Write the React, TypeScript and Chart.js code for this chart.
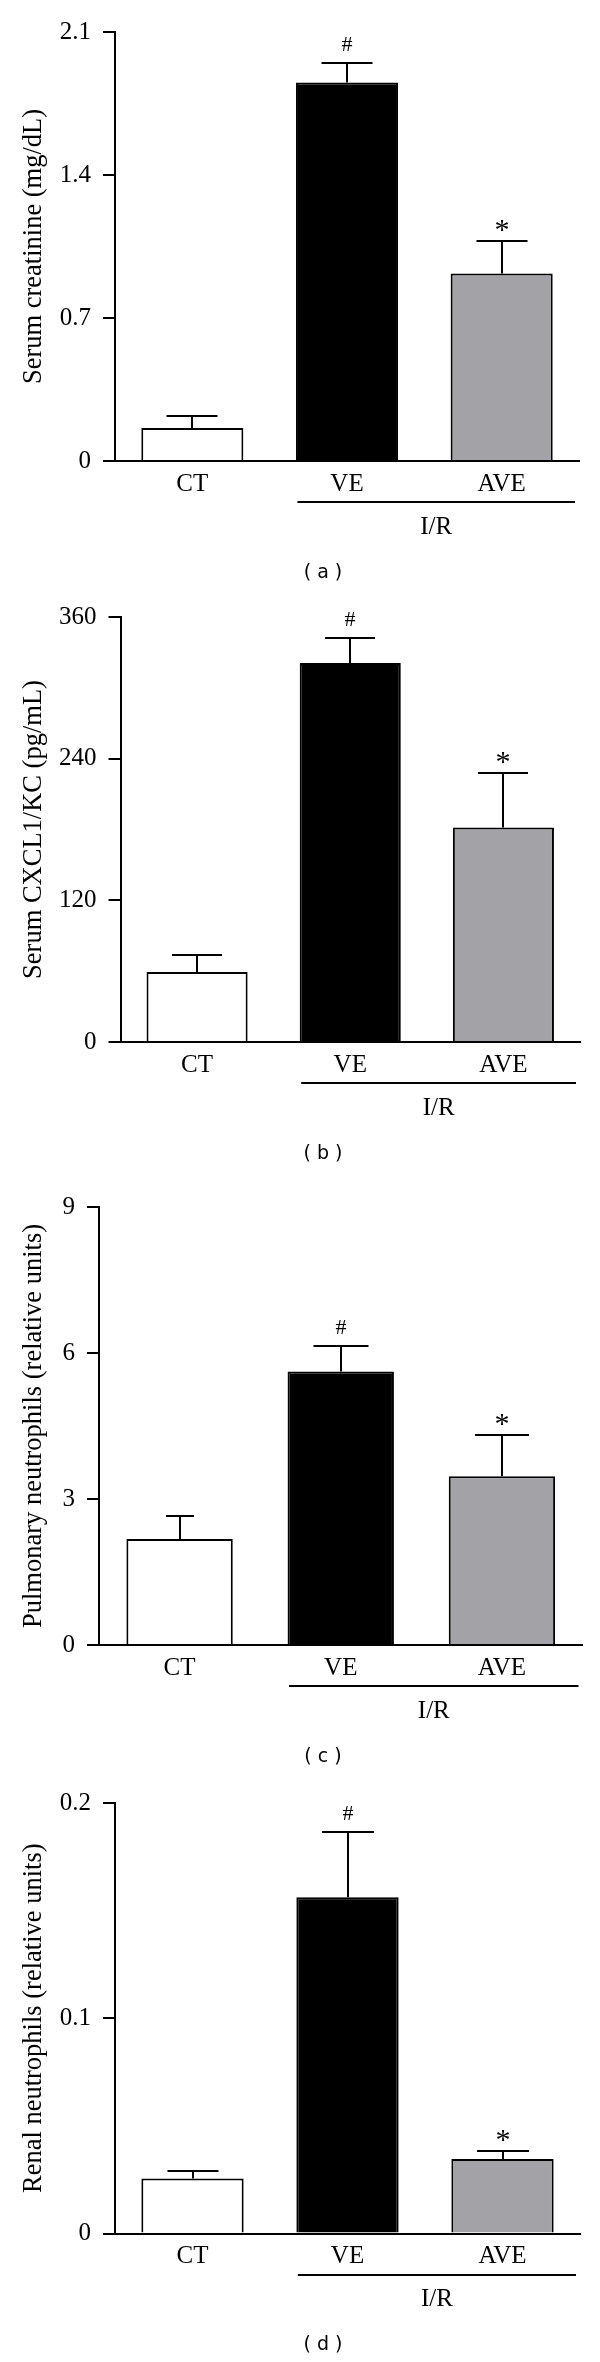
import React, { useEffect, useRef } from 'react';
import { Chart, registerables } from 'chart.js';

Chart.register(...registerables);

// ---------------- data ----------------
const categories = ['CT', 'VE', 'AVE'];
const groupLabel = 'I/R';
const significance = ['', '#', '*'];

const creatinineMean = [0.161, 1.853, 0.918];
const creatinineSem = [0.057, 0.094, 0.159];
const creatinineTicks = [0, 0.7, 1.4, 2.1];
const creatinineTickLabels = ['0', '0.7', '1.4', '2.1'];

const cxclMean = [59.3, 321.0, 181.8];
const cxclSem = [14.2, 20.8, 45.8];
const cxclTicks = [0, 120, 240, 360];
const cxclTickLabels = ['0', '120', '240', '360'];

const pulmonaryMean = [2.18, 5.62, 3.47];
const pulmonarySem = [0.48, 0.53, 0.84];
const pulmonaryTicks = [0, 3, 6, 9];
const pulmonaryTickLabels = ['0', '3', '6', '9'];

const renalMean = [0.0255, 0.1562, 0.0346];
const renalSem = [0.0034, 0.0301, 0.0035];
const renalTicks = [0, 0.1, 0.2];
const renalTickLabels = ['0', '0.1', '0.2'];

// ---------------- styles / layout ----------------
const barFill = ['#ffffff', '#000000', '#a3a3a7'];
const SERIF = '"Liberation Serif", "Times New Roman", serif';
const SANS = '"DejaVu Sans", Verdana, sans-serif';

type PanelCfg = {
  id: string;
  yTitle: string;
  caption: string;
  mean: number[];
  sem: number[];
  ticks: number[];
  tickLabels: string[];
  height: number;
  area: { left: number; right: number; top: number; bottom: number };
  capWidths: number[];
};

const panels: PanelCfg[] = [
  {
    id: 'a', yTitle: 'Serum creatinine (mg/dL)', caption: '( a )',
    mean: creatinineMean, sem: creatinineSem, ticks: creatinineTicks, tickLabels: creatinineTickLabels,
    height: 590, area: { left: 115, right: 579, top: 35, bottom: 461 }, capWidths: [51, 51, 51],
  },
  {
    id: 'b', yTitle: 'Serum CXCL1/KC (pg/mL)', caption: '( b )',
    mean: cxclMean, sem: cxclSem, ticks: cxclTicks, tickLabels: cxclTickLabels,
    height: 590, area: { left: 120.5, right: 580, top: 31.7, bottom: 452 }, capWidths: [50, 50, 50],
  },
  {
    id: 'c', yTitle: 'Pulmonary neutrophils (relative units)', caption: '( c )',
    mean: pulmonaryMean, sem: pulmonarySem, ticks: pulmonaryTicks, tickLabels: pulmonaryTickLabels,
    height: 595, area: { left: 99, right: 582.5, top: 23.5, bottom: 465 }, capWidths: [28, 55, 54],
  },
  {
    id: 'd', yTitle: 'Renal neutrophils (relative units)', caption: '( d )',
    mean: renalMean, sem: renalSem, ticks: renalTicks, tickLabels: renalTickLabels,
    height: 587, area: { left: 115, right: 580, top: 34, bottom: 458.5 }, capWidths: [51, 52, 52],
  },
];

function drawCentered(ctx: CanvasRenderingContext2D, text: string, x: number, cy: number) {
  const m = ctx.measureText(text);
  const asc = m.actualBoundingBoxAscent;
  const desc = m.actualBoundingBoxDescent;
  ctx.textBaseline = 'alphabetic';
  ctx.fillText(text, x, cy + (asc - desc) / 2);
}

function Panel({ p }: { p: PanelCfg }) {
  const ref = useRef<HTMLCanvasElement | null>(null);

  useEffect(() => {
    const canvas = ref.current;
    if (!canvas) return;
    const padding = { left: 0, right: 0, top: 0, bottom: 0 };

    const overlay = {
      id: 'overlay_' + p.id,
      afterDraw(chart: any) {
        const { ctx, chartArea } = chart;
        const ys = chart.scales.y;
        const meta = chart.getDatasetMeta(0);
        const zero = ys.getPixelForValue(0);
        ctx.save();
        ctx.strokeStyle = '#000';
        ctx.fillStyle = '#000';
        ctx.lineWidth = 2;
        ctx.lineCap = 'butt';

        // error bars + significance marks
        p.mean.forEach((m, i) => {
          const bar = meta.data[i];
          const x = Math.round(bar.x);
          const top = ys.getPixelForValue(m);
          const cap = Math.round(ys.getPixelForValue(m + p.sem[i]));
          const cw = p.capWidths[i];
          ctx.beginPath();
          ctx.moveTo(x, top);
          ctx.lineTo(x, cap);
          ctx.stroke();
          ctx.beginPath();
          ctx.moveTo(x - cw / 2, cap);
          ctx.lineTo(x + cw / 2, cap);
          ctx.stroke();
          const mark = significance[i];
          if (mark === '#') {
            ctx.font = `22px ${SERIF}`;
            ctx.textAlign = 'center';
            drawCentered(ctx, mark, x, cap - 19);
          } else if (mark === '*') {
            ctx.font = `30px ${SERIF}`;
            ctx.textAlign = 'center';
            drawCentered(ctx, mark, x, cap - 16);
          }
        });

        // I/R group line
        const ve = meta.data[1];
        const x1 = ve.x - ve.width / 2 + 1.5;
        const x2 = chartArea.right - 4;
        const ly = Math.round(zero + 41);
        ctx.beginPath();
        ctx.moveTo(x1, ly);
        ctx.lineTo(x2, ly);
        ctx.stroke();
        ctx.font = `25px ${SERIF}`;
        ctx.textAlign = 'center';
        drawCentered(ctx, groupLabel, (x1 + x2) / 2, zero + 64);

        // caption
        ctx.font = `19px ${SANS}`;
        ctx.textAlign = 'center';
        ctx.textBaseline = 'middle';
        ctx.fillText(p.caption, 323, zero + 112);

        // y-axis title
        ctx.save();
        ctx.translate(34, (chartArea.top + chartArea.bottom) / 2);
        ctx.rotate(-Math.PI / 2);
        ctx.font = `26.5px ${SERIF}`;
        ctx.textAlign = 'center';
        ctx.textBaseline = 'middle';
        ctx.fillText(p.yTitle, 0, 0);
        ctx.restore();

        ctx.restore();
      },
    };

    const chart = new Chart(canvas, {
      type: 'bar',
      data: {
        labels: categories,
        datasets: [
          {
            data: p.mean,
            backgroundColor: barFill,
            borderColor: '#000',
            borderWidth: 2,
            borderSkipped: 'start',
            categoryPercentage: 1,
            barPercentage: 0.66,
          },
        ],
      },
      options: {
        responsive: false,
        animation: false,
        devicePixelRatio: 1,
        layout: { padding },
        plugins: {
          legend: { display: false },
          tooltip: { enabled: false },
          title: { display: false },
        },
        scales: {
          x: {
            type: 'category',
            grid: { display: false, drawTicks: false },
            border: { display: true, color: '#000', width: 2 },
            ticks: {
              color: '#000',
              font: { family: SERIF, size: 25 },
              padding: 8,
              maxRotation: 0,
              autoSkip: false,
            },
          },
          y: {
            type: 'linear',
            min: 0,
            max: p.ticks[p.ticks.length - 1],
            afterBuildTicks: (scale: any) => {
              scale.ticks = p.ticks.map((v) => ({ value: v }));
            },
            grid: {
              display: true,
              drawOnChartArea: false,
              drawTicks: true,
              tickLength: 12,
              color: '#000',
              lineWidth: 2,
            },
            border: { display: true, color: '#000', width: 2 },
            ticks: {
              color: '#000',
              font: { family: SERIF, size: 25 },
              padding: 12,
              callback: (_v: any, idx: number) => p.tickLabels[idx],
            },
          },
        },
      },
      plugins: [overlay],
    } as any);

    for (let k = 0; k < 4; k++) {
      const a = chart.chartArea;
      padding.left += p.area.left - a.left;
      padding.right += a.right - p.area.right;
      padding.top += p.area.top - a.top;
      padding.bottom += a.bottom - p.area.bottom;
      chart.update();
    }

    return () => chart.destroy();
  }, [p]);

  return (
    <canvas
      ref={ref}
      width={600}
      height={p.height}
      style={{ display: 'block', width: 600, height: p.height }}
    />
  );
}

export default function App() {
  return (
    <div style={{ position: 'absolute', left: 0, top: 0, width: 600, height: 2362, background: '#fff' }}>
      {panels.map((p) => (
        <Panel key={p.id} p={p} />
      ))}
    </div>
  );
}
